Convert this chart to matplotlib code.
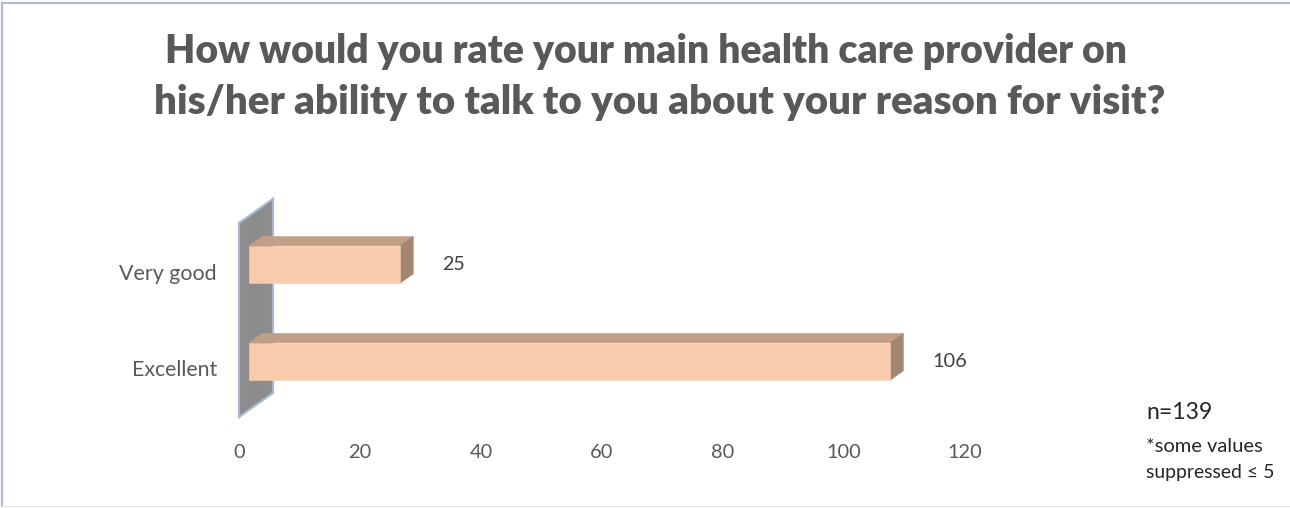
import matplotlib
matplotlib.use("Agg")
import matplotlib.pyplot as plt
from matplotlib.patches import Polygon
from matplotlib.transforms import IdentityTransform

# ---- data -------------------------------------------------------------
categories = ["Excellent", "Very good"]
counts = [106, 25]
x_ticks = [0, 20, 40, 60, 80, 100, 120]
title_lines = [
    "How would you rate your main health care provider on",
    "his/her ability to talk to you about your reason for visit?",
]
sample_note = "n=139"
suppress_note = ["*some values", "suppressed \u2264 5"]

# ---- canvas -----------------------------------------------------------
W, H, DPI = 1290, 508, 100
FONT = ["Lato", "DejaVu Sans"]
TEXT = "#595959"

fig = plt.figure(figsize=(W / DPI, H / DPI), dpi=DPI)
fig.patch.set_facecolor("white")
renderer = fig.canvas.get_renderer()
ident = IdentityTransform()


def img_y(y):
    """image row (top = 0) -> display y (bottom = 0)"""
    return H - y


def fitted_text(x, y, s, width, **kw):
    """place text in display pixels and scale its size to a given width"""
    t = fig.text(x, y, s, transform=ident, family=FONT, **kw)
    w = t.get_window_extent(renderer).width
    t.set_fontsize(t.get_fontsize() * width / w)
    return t


# chart frame
fig.add_artist(plt.Line2D([2, 2], [img_y(3), img_y(506)], transform=ident,
                          color="#B3BDD2", lw=1.6))
fig.add_artist(plt.Line2D([2, W], [img_y(3), img_y(3)], transform=ident,
                          color="#B3BDD2", lw=1.6))
fig.add_artist(plt.Line2D([2, W], [img_y(506), img_y(506)], transform=ident,
                          color="#E6E6E6", lw=1.0))

# plotting area (depth-0 plane of the 3-D box)
left, right, top, bottom = 239, 965, 223, 417
ax = fig.add_axes([left / W, 1 - bottom / H, (right - left) / W, (bottom - top) / H])
ax.set_xlim(0, 120)
ax.set_ylim(-0.5, 1.5)
ax.axis("off")

SLOPE = 0.71          # vertical rise per pixel of depth
WALL_DEPTH = 34
BAR_FRONT, BAR_BACK = 10, 23
BAR_H = 0.385


def to_disp(x, y, depth=0.0):
    px, py = ax.transData.transform((x, y))
    return (px + depth, py + depth * SLOPE)


def face(points, color, z):
    fig.add_artist(Polygon(points, closed=True, transform=ident,
                           facecolor=color, edgecolor=color, lw=0.4, zorder=z))


# side wall
y0, y1 = ax.get_ylim()
wall = [to_disp(0, y0), to_disp(0, y1),
        to_disp(0, y1, WALL_DEPTH), to_disp(0, y0, WALL_DEPTH)]
fig.add_artist(Polygon(wall, closed=True, transform=ident, facecolor="#8C8C8C",
                       edgecolor="#A9B8D0", lw=1.6, zorder=2))

# 3-D bars
for i, (cat, v) in enumerate(zip(categories, counts)):
    lo, hi = i - BAR_H / 2, i + BAR_H / 2
    top_face = [to_disp(0, hi, BAR_FRONT), to_disp(v, hi, BAR_FRONT),
                to_disp(v, hi, BAR_BACK), to_disp(0, hi, BAR_BACK)]
    side_face = [to_disp(v, lo, BAR_FRONT), to_disp(v, hi, BAR_FRONT),
                 to_disp(v, hi, BAR_BACK), to_disp(v, lo, BAR_BACK)]
    front_face = [to_disp(0, lo, BAR_FRONT), to_disp(v, lo, BAR_FRONT),
                  to_disp(v, hi, BAR_FRONT), to_disp(0, hi, BAR_FRONT)]
    face(top_face, "#C19E86", 3)
    face(side_face, "#A3866F", 3)
    face(front_face, "#F8CBAD", 4)

    # value label
    fx, fy = to_disp(v, i, BAR_FRONT)
    fitted_text(fx + 42, fy, str(v), 12 * len(str(v)) - 1, ha="left",
                va="center", color="#404040")

    # category label
    cx, cy = to_disp(0, i)
    fitted_text(217, cy - 8, cat, 85 if cat == "Excellent" else 98,
                ha="right", va="baseline", color=TEXT)

# value axis labels (size taken from the widest label)
probe = fitted_text(0, 0, str(x_ticks[-1]), 35)
tick_size = probe.get_fontsize()
probe.remove()
for tv in x_ticks:
    tx, _ = to_disp(tv, 0)
    fig.text(tx, img_y(458), str(tv), transform=ident, family=FONT,
             fontsize=tick_size, ha="center", va="baseline", color=TEXT)

# title
fitted_text(165, img_y(63), title_lines[0], 968, ha="left", va="baseline",
            color=TEXT, fontweight="heavy")
fitted_text(154, img_y(114), title_lines[1], 1018, ha="left", va="baseline",
            color=TEXT, fontweight="heavy")

# notes
fitted_text(1146, img_y(419), sample_note, 66, ha="left", va="baseline",
            color="#262626")
fitted_text(1146, img_y(452), suppress_note[0], 117, ha="left", va="baseline",
            color="#262626")
fitted_text(1146, img_y(478), suppress_note[1], 129, ha="left", va="baseline",
            color="#262626")

fig.savefig("out.png", dpi=DPI, facecolor="white")
